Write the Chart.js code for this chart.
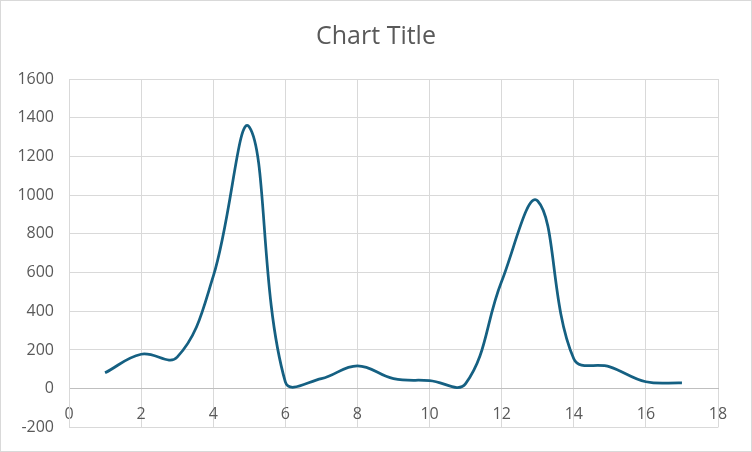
<!DOCTYPE html>
<html>
<head>
<meta charset="utf-8">
<script src="https://cdn.jsdelivr.net/npm/chart.js@4"></script>
<style>
html,body{margin:0;padding:0;background:#fff;}
#wrap{width:752px;height:452px;}
</style>
</head>
<body>
<div id="wrap"><canvas id="c" width="752" height="452"></canvas></div>
<script>
const xValues = [1,2,3,4,5,6,7,8,9,10,11,12,13,14,15,16,17];
const yValues = [82,178,163,580,1352,35,52,118,52,42,26,555,970,155,113,36,30];
const titleText = "Chart Title";
const xTicks = [0,2,4,6,8,10,12,14,16,18];
const yTicks = [-200,0,200,400,600,800,1000,1200,1400,1600];

const border = {
  id:'outerBorder',
  beforeDraw(chart){
    const c = chart.ctx;
    c.save();
    c.fillStyle='#fff';
    c.fillRect(0,0,chart.width,chart.height);
    c.strokeStyle='#d9d9d9';
    c.lineWidth=1;
    c.strokeRect(0.5,0.5,chart.width-1,chart.height-1);
    c.restore();
  }
};

new Chart(document.getElementById('c'), {
  type:'scatter',
  data:{
    datasets:[{
      data: xValues.map((x,i)=>({x:x,y:yValues[i]})),
      showLine:true,
      borderColor:'#156082',
      borderWidth:2.75,
      pointRadius:0,
      tension:0.4,
      fill:false
    }]
  },
  options:{
    responsive:false,
    animation:false,
    devicePixelRatio:1,
    layout:{padding:{left:0,right:0,top:0,bottom:21}},
    plugins:{
      legend:{display:false},
      tooltip:{enabled:false},
      title:{
        display:true,
        text:titleText,
        color:'#595959',
        font:{family:'"Open Sans"',size:25,weight:'normal'},
        padding:{top:22,bottom:27}
      }
    },
    scales:{
      x:{
        type:'linear',
        min:0,max:18,
        position:{y:0},
        afterBuildTicks(s){ s.ticks = xTicks.map(v=>({value:v})); },
        ticks:{color:'#595959',font:{family:'"Open Sans"',size:16},padding:10,maxRotation:0,callback:(v)=>String(v)},
        grid:{color:'#d9d9d9',lineWidth:1,drawTicks:true,tickLength:6,tickColor:'rgba(0,0,0,0)'},
        border:{display:true,color:'#bfbfbf',width:1}
      },
      y:{
        type:'linear',
        min:-200,max:1600,
        afterFit(s){ s.width = 69; },
        afterBuildTicks(s){ s.ticks = yTicks.map(v=>({value:v})); },
        ticks:{color:'#595959',font:{family:'"Open Sans"',size:16},padding:15,callback:(v)=>String(v)},
        grid:{color:(ctx)=> ctx.tick && ctx.tick.value===0 ? '#bfbfbf' : '#d9d9d9',lineWidth:1,drawTicks:false},
        border:{display:true,color:'#d9d9d9',width:1}
      },
      yRight:{
        type:'linear',
        position:'right',
        min:-200,max:1600,
        afterFit(s){ s.width = 34; },
        ticks:{display:false},
        grid:{display:false,drawTicks:false},
        border:{display:false}
      }
    }
  },
  plugins:[border]
});
</script>
</body>
</html>
